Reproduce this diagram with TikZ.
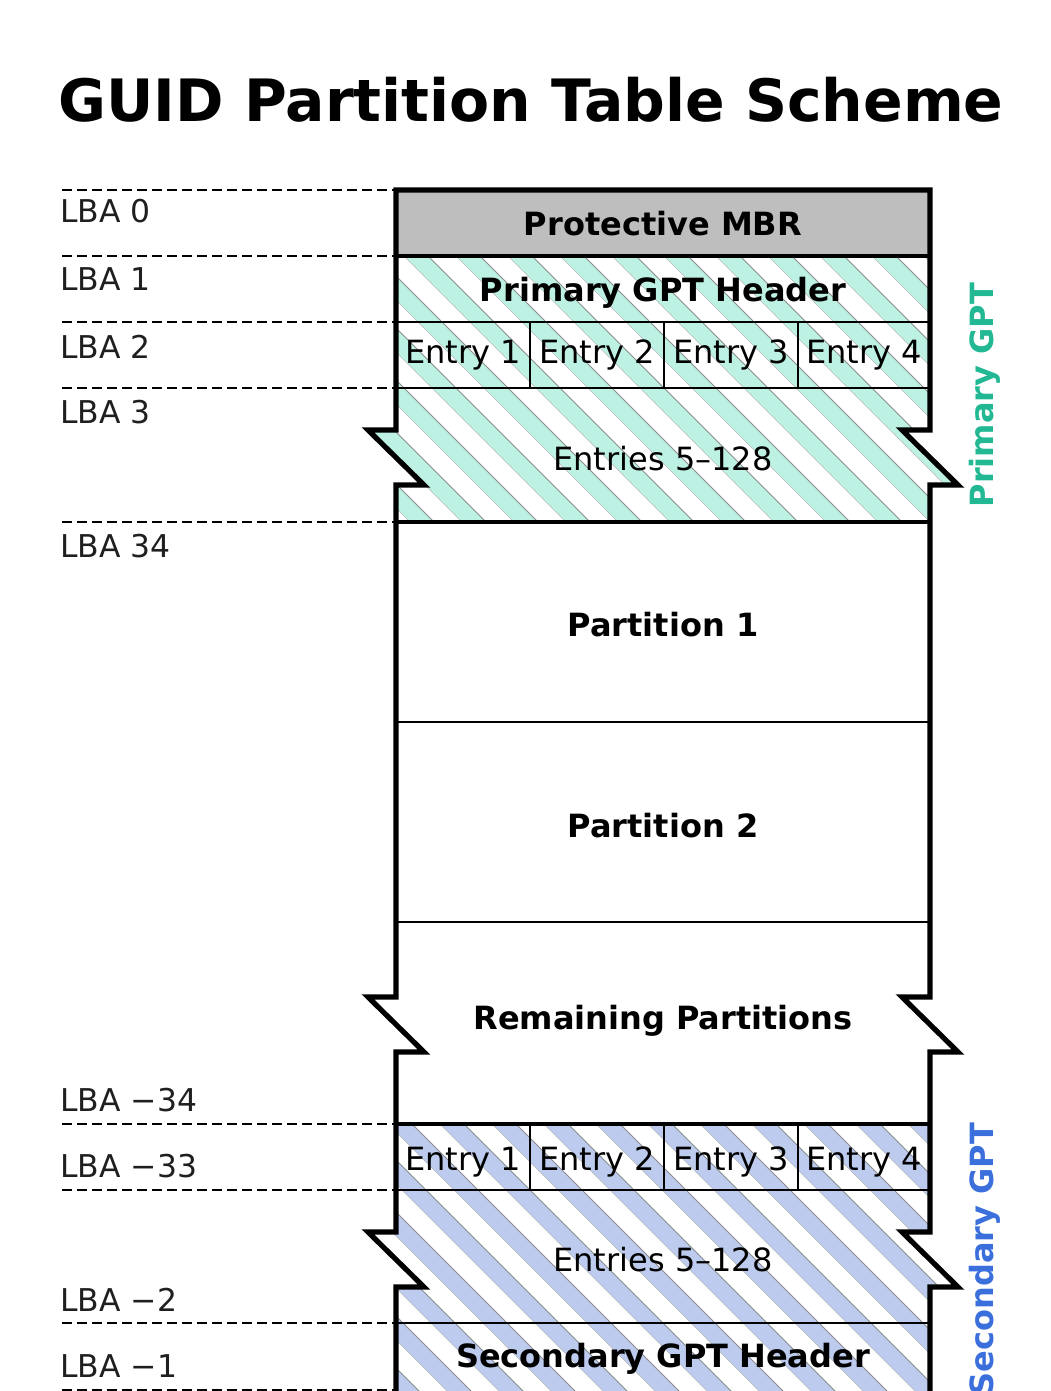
\documentclass[tikz,border=0pt]{standalone}
\usepackage{fontspec}
\setmainfont{DejaVu Sans}
\definecolor{mbrgray}{HTML}{BEBEBE}
\definecolor{tealband}{HTML}{BDF1E3}
\definecolor{blueband}{HTML}{BCCBEE}
\definecolor{tealtext}{HTML}{22B893}
\definecolor{bluetext}{HTML}{3B6FDB}
\definecolor{stripeedge}{HTML}{8C8C8C}

% 45-degree stripes between two rows: #1 colour, #2 top y, #3 bottom y
\newcommand\hatchrows[3]{%
  \foreach \k in {-25,...,16}{%
    \pgfmathsetmacro\ca{-8+52*\k}%
    \fill[#1] ({\ca+#2},#2) -- ({\ca+24+#2},#2) -- ({\ca+24+#3},#3) -- ({\ca+#3},#3) -- cycle;
    \draw[stripe edge] ({\ca+24+#2},#2) -- ({\ca+24+#3},#3);
    \draw[stripe edge soft] ({\ca+#2},#2) -- ({\ca+#3},#3);
  }}

\tikzset{
  stripe edge/.style={stripeedge, line width=0.5pt},
  stripe edge soft/.style={stripeedge!60, line width=0.3pt},
  lbl/.style={anchor=base west, inner sep=0, text=black!88,
              font=\fontsize{15.7}{18}\selectfont},
  boxtxt/.style={inner sep=0, font=\fontsize{16}{19}\selectfont\bfseries},
  celltxt/.style={inner sep=0, font=\fontsize{16}{19}\selectfont},
  sidetxt/.style={inner sep=0, rotate=90, font=\fontsize{16}{19}\selectfont\bfseries},
  lbaline/.style={line width=1.2pt, dash pattern=on 5pt off 2.5pt},
  thinsep/.style={line width=1pt},
  thicksep/.style={line width=1.8pt},
  outline/.style={line width=2.6pt, line join=miter, miter limit=20},
}

\begin{document}
\begin{tikzpicture}[x=0.5pt, y=-0.5pt]
\useasboundingbox (0,0) rectangle (1050,1391);

% title
\node[anchor=base, inner sep=0, font=\fontsize{29.2}{34}\selectfont\bfseries]
  (title) at (531,122) {GUID Partition Table Scheme};

% protective MBR
\fill[mbrgray] (396,190) rectangle (930,256);

% primary GPT hatching
\begin{scope}
  \clip (396,256) -- (930,256) -- (930,430) -- (902,430) -- (958,485) -- (930,485)
        -- (930,522) -- (396,522) -- (396,485) -- (424,485) -- (368,430) -- (396,430) -- cycle;
  \hatchrows{tealband}{256}{522}
\end{scope}

% secondary GPT hatching
\begin{scope}
  \clip (396,1124) -- (930,1124) -- (930,1232) -- (902,1232) -- (958,1287) -- (930,1287)
        -- (930,1400) -- (396,1400) -- (396,1287) -- (424,1287) -- (368,1232) -- (396,1232) -- cycle;
  \hatchrows{blueband}{1124}{1400}
\end{scope}

% row separators
\draw[thicksep] (396,256) -- (930,256);
\draw[thinsep] (396,322) -- (930,322);
\draw[thinsep] (396,388) -- (930,388);
\draw[thicksep] (396,522) -- (930,522);
\draw[thinsep] (396,722) -- (930,722);
\draw[thinsep] (396,922) -- (930,922);
\draw[thicksep] (396,1124) -- (930,1124);
\draw[thinsep] (396,1190) -- (930,1190);
\draw[thinsep] (396,1323) -- (930,1323);

% partition entry cells
\foreach \xs in {530,664,798}{
  \draw[thinsep] (\xs,322) -- (\xs,388);
  \draw[thinsep] (\xs,1124) -- (\xs,1190);
}

% disk outline with break marks
\draw[outline]
  (396,1400) -- (396,1287) -- (424,1287) -- (368,1232) -- (396,1232)
  -- (396,1052) -- (424,1052) -- (368,997) -- (396,997)
  -- (396,485) -- (424,485) -- (368,430) -- (396,430)
  -- (396,190) -- (930,190)
  -- (930,430) -- (902,430) -- (958,485) -- (930,485)
  -- (930,997) -- (902,997) -- (958,1052) -- (930,1052)
  -- (930,1232) -- (902,1232) -- (958,1287) -- (930,1287)
  -- (930,1400);

% LBA boundaries
\foreach \ys in {190,256,322,388,522,1124,1190,1323,1390}{
  \draw[lbaline] (62,\ys) -- (396,\ys);
}

% LBA labels
\node[lbl] (lba0)  at (60,223)  {LBA 0};
\node[lbl] (lba1)  at (60,290)  {LBA 1};
\node[lbl] (lba2)  at (60,358)  {LBA 2};
\node[lbl] (lba3)  at (60,423)  {LBA 3};
\node[lbl] (lba34) at (60,557)  {LBA 34};
\node[lbl] (lbam34) at (60,1111) {LBA −34};
\node[lbl] (lbam33) at (60,1177) {LBA −33};
\node[lbl] (lbam2)  at (60,1311) {LBA −2};
\node[lbl] (lbam1)  at (60,1377) {LBA −1};

% block contents
\node[boxtxt] (mbr)  at (663,224) {Protective MBR};
\node[boxtxt] (phdr) at (663,293) {Primary GPT Header};
\node[celltxt] (pe1) at (463,355) {Entry 1};
\node[celltxt] (pe2) at (597,355) {Entry 2};
\node[celltxt] (pe3) at (731,355) {Entry 3};
\node[celltxt] (pe4) at (864,355) {Entry 4};
\node[celltxt] (pent) at (663,459) {Entries 5–128};
\node[boxtxt] (part1) at (663,625) {Partition 1};
\node[boxtxt] (part2) at (663,826) {Partition 2};
\node[boxtxt] (rest)  at (663,1021) {Remaining Partitions};
\node[celltxt] (se1) at (463,1162) {Entry 1};
\node[celltxt] (se2) at (597,1162) {Entry 2};
\node[celltxt] (se3) at (731,1162) {Entry 3};
\node[celltxt] (se4) at (864,1162) {Entry 4};
\node[celltxt] (sent) at (663,1260) {Entries 5–128};
\node[boxtxt] (shdr) at (663,1359) {Secondary GPT Header};

% side captions
\node[sidetxt, text=tealtext] (pgpt) at (985,395) {Primary GPT};
\node[sidetxt, text=bluetext] (sgpt) at (985,1259) {Secondary GPT};
\end{tikzpicture}
\end{document}
